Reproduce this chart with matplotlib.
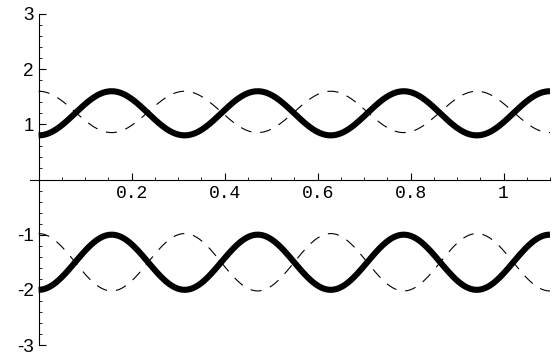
import numpy as np
import matplotlib
matplotlib.use("Agg")
from matplotlib import pyplot as plt
from matplotlib.ticker import MultipleLocator

# curve parameters: level, swing, and sign of cos term
x_max = 1.1
omega = 20.0  # period ~0.314
levels = [1.2, 1.225, -1.5, -1.5]
swings = [-0.4, 0.375, -0.5, 0.52]
styles = ["solid", "dashed", "solid", "dashed"]

x_ticks = [0.2, 0.4, 0.6, 0.8, 1]
x_labels = ["0.2", "0.4", "0.6", "0.8", "1"]
y_ticks = [-3, -2, -1, 1, 2, 3]
y_labels = ["-3", "-2", "-1", "1", "2", "3"]

fig = plt.figure(figsize=(5.59, 3.56), dpi=100)
W, H = 559, 356
x0px, x1px = 30.0, 550.0
ax = fig.add_axes([x0px / W, 11 / H, (x1px - x0px) / W, 331 / H])

x = np.linspace(0, x_max, 600)
for lv, sw, st in zip(levels, swings, styles):
    y = lv + sw * np.cos(omega * x)
    if st == "solid":
        ax.plot(x, y, color="black", lw=4.4, solid_capstyle="butt")
    else:
        ax.plot(x, y, color="black", lw=0.8, linestyle=(0, (10, 8)))

ax.set_xlim(-0.0185, x_max)
ax.set_ylim(-3, 3)

ax.spines["top"].set_visible(False)
ax.spines["right"].set_visible(False)
ax.spines["left"].set_position(("data", 0))
ax.spines["bottom"].set_position(("data", 0))
for s in ("left", "bottom"):
    ax.spines[s].set_linewidth(0.8)

ax.set_xticks(x_ticks)
ax.set_xticklabels(x_labels, family="Liberation Mono", fontsize=13)
ax.set_yticks(y_ticks)
ax.set_yticklabels(y_labels, family="Liberation Sans", fontsize=13.5)
ax.xaxis.set_minor_locator(MultipleLocator(0.05))
ax.yaxis.set_minor_locator(MultipleLocator(0.2))

ax.tick_params(axis="x", which="major", direction="in", length=5, width=0.8, pad=4)
ax.tick_params(axis="x", which="minor", direction="in", length=2.5, width=0.6)
ax.tick_params(axis="y", which="major", direction="in", length=5, width=0.8, pad=3.5)
ax.tick_params(axis="y", which="minor", direction="in", length=2.5, width=0.6)

fig.savefig("out.png", dpi=100)
